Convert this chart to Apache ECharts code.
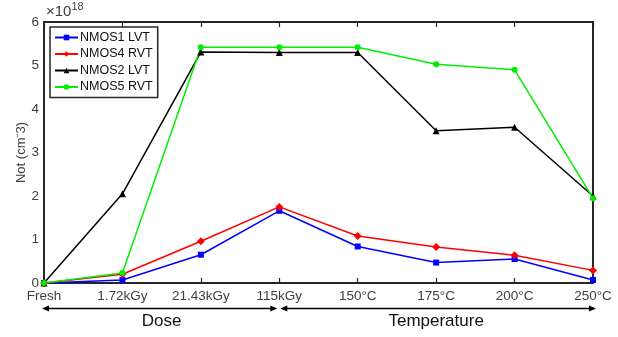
<!DOCTYPE html>
<html>
<head>
<meta charset="utf-8">
<script src="https://cdn.jsdelivr.net/npm/echarts@6/dist/echarts.min.js"></script>
<style>
  html, body { margin: 0; padding: 0; background: #fff; }
  #chart { width: 618px; height: 337px; }
</style>
</head>
<body>
<div id="chart"></div>
<script>
// Stage labels along the x axis: irradiation dose, then annealing temperature
const categories = ['Fresh', '1.72kGy', '21.43kGy', '115kGy', '150°C', '175°C', '200°C', '250°C'];

// Oxide trapped charge density, in units of 1e18 cm^-3
const nmos1Lvt = [0, 0.07, 0.65, 1.66, 0.84, 0.47, 0.55, 0.07];
const nmos4Rvt = [0, 0.20, 0.96, 1.75, 1.08, 0.83, 0.64, 0.29];
const nmos2Lvt = [0, 2.05, 5.31, 5.30, 5.30, 3.50, 3.58, 2.00];
const nmos5Rvt = [0, 0.23, 5.42, 5.42, 5.42, 5.03, 4.90, 1.95];

// Phase groups shown as arrows under the axis: [label, first category, last category]
const phases = [
  ['Dose', 0, 3],
  ['Temperature', 3, 7]
];

const FONT = '"Liberation Sans", Arial, sans-serif';
const AXIS_COLOR = '#262626';
const LABEL_COLOR = '#404040';

const chart = echarts.init(document.getElementById('chart'), null, { renderer: 'canvas' });

function lineSeries(name, data, color, symbol, size) {
  return {
    name, type: 'line', data,
    symbol, symbolSize: size,
    showSymbol: true,
    clip: false,
    lineStyle: { color, width: 1.5 },
    itemStyle: { color, borderWidth: 0 },
    emphasis: { disabled: true },
    animation: false
  };
}

const tickStyle = { inside: true, length: 5, lineStyle: { color: AXIS_COLOR, width: 1.2 } };
const lineStyleAxis = { show: true, onZero: false, lineStyle: { color: AXIS_COLOR, width: 2 } };

chart.setOption({
  animation: false,
  backgroundColor: '#fff',
  grid: { left: 44, right: 25, top: 22, bottom: 54 },
  xAxis: [
    {
      type: 'category', data: categories, boundaryGap: false, position: 'bottom',
      axisLine: lineStyleAxis,
      axisTick: tickStyle,
      axisLabel: { color: LABEL_COLOR, fontFamily: FONT, fontSize: 13.5, margin: 6, interval: 0 },
      splitLine: { show: false }
    },
    {
      type: 'category', data: categories, boundaryGap: false, position: 'top',
      axisLine: lineStyleAxis,
      axisTick: tickStyle,
      axisLabel: { show: false },
      splitLine: { show: false }
    }
  ],
  yAxis: [
    {
      type: 'value', min: 0, max: 6, interval: 1, position: 'left',
      name: 'Not (cm⁻3)', nameLocation: 'middle', nameGap: 16, nameRotate: 90,
      nameMoveOverlap: false,
      nameTextStyle: { color: LABEL_COLOR, fontFamily: FONT, fontSize: 13 },
      axisLine: lineStyleAxis,
      axisTick: tickStyle,
      axisLabel: { color: LABEL_COLOR, fontFamily: FONT, fontSize: 13.5, margin: 5 },
      splitLine: { show: false }
    },
    {
      type: 'value', min: 0, max: 6, interval: 1, position: 'right',
      axisLine: lineStyleAxis,
      axisTick: tickStyle,
      axisLabel: { show: false },
      splitLine: { show: false }
    }
  ],
  legend: {
    orient: 'vertical', left: 50, top: 27,
    backgroundColor: '#fff',
    borderColor: AXIS_COLOR, borderWidth: 1.5, borderRadius: 0,
    padding: [4, 5, 4, 4],
    itemWidth: 23, itemHeight: 7, itemGap: 3.5,
    textStyle: { color: '#111', fontFamily: FONT, fontSize: 12.5, lineHeight: 12, padding: [0, 0, 0, -3] },
    selectedMode: false
  },
  series: [
    lineSeries('NMOS1 LVT', nmos1Lvt, '#0000ff', 'rect', 6),
    lineSeries('NMOS4 RVT', nmos4Rvt, '#ff0000', 'diamond', 8),
    lineSeries('NMOS2 LVT', nmos2Lvt, '#000000', 'triangle', 7),
    lineSeries('NMOS5 RVT', nmos5Rvt, '#00ee00', 'circle', 6)
  ]
});

// Annotations placed from the axis scales: exponent marker and phase arrows
const xAt = i => chart.convertToPixel({ xAxisIndex: 0 }, categories[i]);
const yTop = chart.convertToPixel({ yAxisIndex: 0 }, 6);
const yZero = chart.convertToPixel({ yAxisIndex: 0 }, 0);
const arrowY = yZero + 25.5;
const labelY = yZero + 30;

function arrow(x1, x2, y, both) {
  const head = 7, half = 3;
  const els = [
    { type: 'line', shape: { x1: x1 + (both ? 3 : 0), y1: y, x2: x2 - 3, y2: y },
      style: { stroke: '#000', lineWidth: 1.5 } },
    { type: 'polygon', shape: { points: [[x2, y], [x2 - head, y - half], [x2 - head, y + half]] },
      style: { fill: '#000' } }
  ];
  if (both) {
    els.push({ type: 'polygon', shape: { points: [[x1, y], [x1 + head, y - half], [x1 + head, y + half]] },
      style: { fill: '#000' } });
  }
  return els;
}

const graphics = [
  {
    type: 'text', left: xAt(0) + 2, top: yTop - 21,
    style: {
      text: '{b|×10}{s|18}',
      rich: {
        b: { fontFamily: FONT, fontSize: 15, fill: LABEL_COLOR, verticalAlign: 'bottom', lineHeight: 18 },
        s: { fontFamily: FONT, fontSize: 11, fill: LABEL_COLOR, verticalAlign: 'top', lineHeight: 18, padding: [0, 0, 8, 0] }
      }
    }
  }
];

phases.forEach(([label, a, b], k) => {
  const x1 = xAt(a) + (k === 0 ? -2 : 1);
  const x2 = xAt(b) + (k === 0 ? -2 : 3);
  arrow(x1, x2, arrowY, true).forEach(el => graphics.push(el));
  graphics.push({
    type: 'text', x: (xAt(a) + xAt(b)) / 2, y: labelY,
    style: { text: label, fontFamily: FONT, fontSize: 17, fill: '#111', align: 'center', verticalAlign: 'top' }
  });
});

chart.setOption({ graphic: graphics });
</script>
</body>
</html>
